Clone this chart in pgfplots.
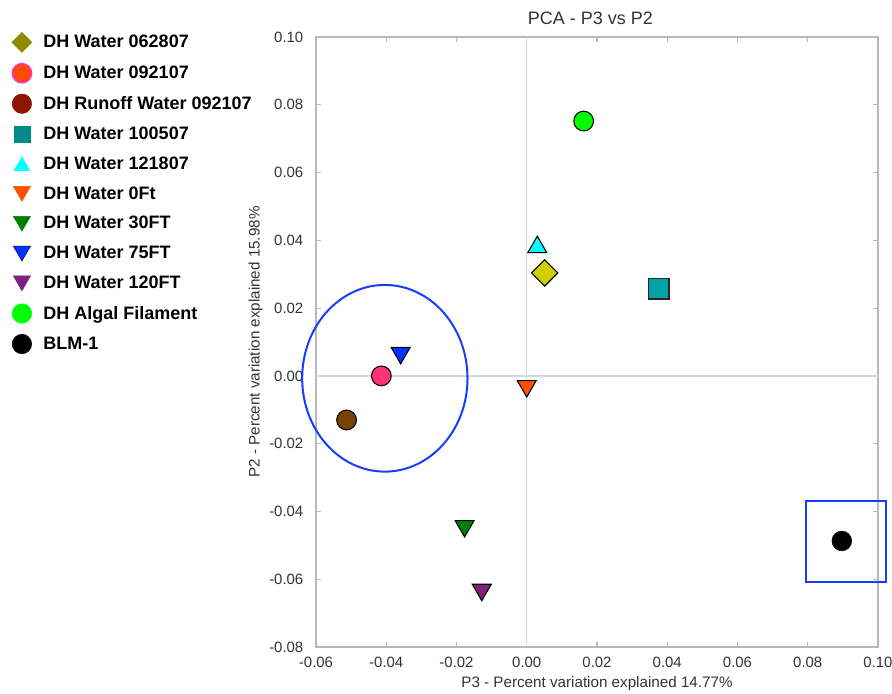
\documentclass[border=0pt]{standalone}
\usepackage{fontspec}
\setmainfont{Liberation Sans}
\usepackage{pgfplots}
\pgfplotsset{compat=1.18}

\definecolor{axgray}{HTML}{B8B8B8}
\definecolor{zgray}{HTML}{D8D8D8}
\definecolor{lbl}{HTML}{333333}
% legend colours
\definecolor{lOlive}{HTML}{8C8C00}
\definecolor{lOrange}{HTML}{FF4A00}
\definecolor{lMagenta}{HTML}{FF33DD}
\definecolor{lRed}{HTML}{8B1500}
\definecolor{lTeal}{HTML}{008B8B}
% plot colours
\definecolor{pYellow}{HTML}{D2CE00}
\definecolor{pPink}{HTML}{FF3377}
\definecolor{pBrown}{HTML}{7A4200}
\definecolor{pTeal}{HTML}{00A3A3}
\definecolor{cCyan}{HTML}{00FFFF}
\definecolor{cOrange}{HTML}{FF5000}
\definecolor{cGreen}{HTML}{008000}
\definecolor{cBlue}{HTML}{0033FF}
\definecolor{cPurple}{HTML}{7F1F7F}
\definecolor{cLime}{HTML}{00FF00}
\definecolor{cRing}{HTML}{1A3CFF}

\begin{document}
\begin{tikzpicture}
\begin{axis}[
  scale only axis, width=421.5pt, height=457.5pt,
  xmin=-0.06, xmax=0.10, ymin=-0.08, ymax=0.10,
  xtick={-0.06,-0.04,...,0.101}, ytick={-0.08,-0.06,...,0.101},
  /pgf/number format/.cd, fixed, fixed zerofill, precision=2, assume math mode=true,
  /pgfplots/.cd,
  tick label style={font=\fontsize{11.2}{13}\selectfont, text=lbl},
  yticklabel style={xshift=-6pt},
  xticklabel style={yshift=-4pt},
  label style={font=\fontsize{11.4}{13}\selectfont, text=lbl},
  ylabel style={yshift=-2pt},
  title style={font=\fontsize{13.5}{15}\selectfont, text=lbl, xshift=-5pt},
  title={PCA - P3 vs P2},
  xlabel={P3 - Percent variation explained 14.77\%},
  ylabel={P2 - Percent variation explained 15.98\%},
  axis line style={axgray, line width=1.1pt},
  tick style={axgray, line width=0.8pt},
  tick align=inside, major tick length=4pt,
  clip=false,
  legend style={draw=none, fill=none, at={(rel axis cs:-0.5415,1.008)}, anchor=north west,
    font=\fontsize{13.5}{15}\selectfont\bfseries, row sep=8.3pt, column sep=7pt, inner sep=0pt,
    nodes={inner sep=1.6pt}},
  legend cell align=left,
]
% legend symbols (legend colours differ from the plotted ones)
\addlegendimage{only marks, mark=square*, mark size=5.3pt, mark options={rotate=45, fill=lOlive, draw=lOlive}}
\addlegendimage{only marks, mark=*, mark size=7.3pt, mark options={fill=lOrange, draw=lMagenta, line width=1pt}}
\addlegendimage{only marks, mark=*, mark size=7.3pt, mark options={fill=lRed, draw=lRed}}
\addlegendimage{only marks, mark=square*, mark size=5.9pt, mark options={fill=lTeal, draw=lTeal}}
\addlegendimage{only marks, mark=triangle*, mark size=6.8pt, mark options={yshift=-1.6pt, fill=cCyan, draw=cCyan}}
\addlegendimage{only marks, mark=triangle*, mark size=7.4pt, mark options={yshift=1.8pt, rotate=180, fill=cOrange, draw=cOrange}}
\addlegendimage{only marks, mark=triangle*, mark size=7.4pt, mark options={yshift=1.8pt, rotate=180, fill=cGreen, draw=cGreen}}
\addlegendimage{only marks, mark=triangle*, mark size=7.4pt, mark options={yshift=1.8pt, rotate=180, fill=cBlue, draw=black!70!blue}}
\addlegendimage{only marks, mark=triangle*, mark size=7.4pt, mark options={yshift=1.8pt, rotate=180, fill=cPurple, draw=cPurple}}
\addlegendimage{only marks, mark=*, mark size=7.3pt, mark options={fill=cLime, draw=cLime}}
\addlegendimage{only marks, mark=*, mark size=7.3pt, mark options={fill=black, draw=black}}
\legend{DH Water 062807, DH Water 092107, DH Runoff Water 092107, DH Water 100507,
  DH Water 121807, DH Water 0Ft, DH Water 30FT, DH Water 75FT, DH Water 120FT,
  DH Algal Filament, BLM-1}

% zero lines
\draw[zgray, line width=1pt] (axis cs:0,-0.08) -- (axis cs:0,0.10);
\draw[zgray, line width=1pt] (axis cs:-0.06,0) -- (axis cs:0.10,0);

% scores
\addplot[forget plot, only marks, mark=square*, mark size=7pt, mark options={rotate=45, fill=pYellow, draw=black, line width=0.8pt}]
  coordinates {(0.0051,0.0304)};
\addplot[forget plot, only marks, mark=*, mark size=7.4pt, mark options={fill=pPink, draw=black, line width=0.8pt}]
  coordinates {(-0.0414,0.0000)};
\addplot[forget plot, only marks, mark=*, mark size=7.4pt, mark options={fill=pBrown, draw=black, line width=0.8pt}]
  coordinates {(-0.0513,-0.0130)};
\addplot[forget plot, only marks, mark=square*, mark size=7.6pt, mark options={fill=pTeal, draw=black!85, line width=1pt}]
  coordinates {(0.0376,0.0257)};
\addplot[forget plot, only marks, mark=triangle*, mark size=8.2pt, mark options={fill=cCyan, draw=black, line width=0.8pt}]
  coordinates {(0.0030,0.0380)};
\addplot[forget plot, only marks, mark=triangle*, mark size=8.2pt, mark options={rotate=180, fill=cOrange, draw=black, line width=0.8pt}]
  coordinates {(0.0000,-0.0030)};
\addplot[forget plot, only marks, mark=triangle*, mark size=8.2pt, mark options={rotate=180, fill=cGreen, draw=black, line width=0.8pt}]
  coordinates {(-0.0177,-0.0443)};
\addplot[forget plot, only marks, mark=triangle*, mark size=8.2pt, mark options={rotate=180, fill=cBlue, draw=black, line width=0.8pt}]
  coordinates {(-0.0359,0.0068)};
\addplot[forget plot, only marks, mark=triangle*, mark size=8.2pt, mark options={rotate=180, fill=cPurple, draw=black, line width=0.8pt}]
  coordinates {(-0.0128,-0.0631)};
\addplot[forget plot, only marks, mark=*, mark size=7.4pt, mark options={fill=cLime, draw=black, line width=0.8pt}]
  coordinates {(0.0162,0.0752)};
\addplot[forget plot, only marks, mark=*, mark size=7.4pt, mark options={fill=black, draw=black}]
  coordinates {(0.0897,-0.0487)};

% highlight annotations
\draw[cRing, line width=1.5pt] (axis cs:-0.0404,-0.0007) ellipse [x radius=62pt, y radius=70pt];
\draw[cRing, line width=1.5pt] (axis cs:0.0794,-0.0369) rectangle (axis cs:0.1022,-0.0608);

\coordinate (BL) at (rel axis cs:-0.5623,-0.0754);
\coordinate (TR) at (rel axis cs:1.0249,1.0607);
\end{axis}
\pgfresetboundingbox
\useasboundingbox (BL) rectangle (TR);
\end{tikzpicture}
\end{document}
